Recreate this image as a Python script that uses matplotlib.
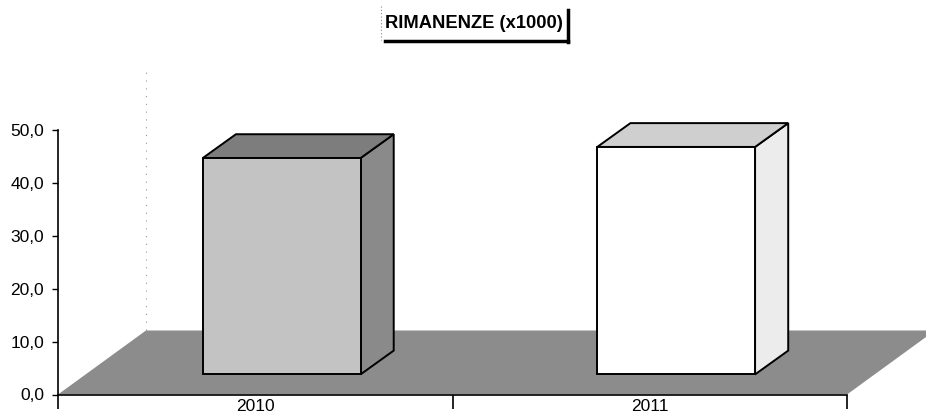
import matplotlib
matplotlib.use("Agg")
import matplotlib.pyplot as plt
import numpy as np
from matplotlib.patches import Polygon
from matplotlib.lines import Line2D
from matplotlib.ticker import FuncFormatter

plt.rcParams['font.family'] = ['Liberation Sans', 'DejaVu Sans']

# ---- data ----
categories = ["2010", "2011"]
values = [44.7, 46.8]          # top of the front face, read on the value axis
title = "RIMANENZE (x1000)"
yticks = [0, 10, 20, 30, 40, 50]

# ---- styling / geometry ----
front_colors = ["#c3c3c3", "#ffffff"]
side_colors = ["#8a8a8a", "#ececec"]
top_colors = ["#7d7d7d", "#cfcfcf"]
floor_color = "#8c8c8c"
base = 3.8          # bar base level (3-D inset)
bar_width = 0.40
bar_shift = 0.067
depth_x = 0.084     # 3-D depth offset, x
depth_y = 4.5       # 3-D depth offset, y
floor_dx = 0.223
floor_dy = 12.1

W, H = 926, 416
fig = plt.figure(figsize=(W / 100, H / 100), dpi=100)
ax = fig.add_axes([58 / W, 21.5 / H, 1 - 58 / W, 1 - 21.5 / H])
ax.set_xlim(0, (W - 58) / 394.5)
ax.set_ylim(0, 394.5 / 5.29)

n = len(categories)

# floor
floor = Polygon([(0, 0), (n, 0), (n + floor_dx, floor_dy), (floor_dx, floor_dy)],
                closed=True, facecolor=floor_color, edgecolor="none", zorder=1)
ax.add_patch(floor)
# faint back-wall edge
ax.plot([floor_dx, floor_dx], [floor_dy, 50 + floor_dy], linestyle=(0, (1, 6)),
        color="#9a9a9a", lw=0.8, zorder=0.5)

centers = np.arange(n) + 0.5 + bar_shift
for i, (c, v) in enumerate(zip(centers, values)):
    x0, x1 = c - bar_width / 2, c + bar_width / 2
    ax.bar(c, v - base, bottom=base, width=bar_width, color=front_colors[i],
           edgecolor="black", linewidth=1.4, zorder=3)
    side = Polygon([(x1, base), (x1 + depth_x, base + depth_y),
                    (x1 + depth_x, v + depth_y), (x1, v)],
                   closed=True, facecolor=side_colors[i], edgecolor="black",
                   linewidth=1.4, zorder=2.5)
    top = Polygon([(x0, v), (x1, v), (x1 + depth_x, v + depth_y),
                   (x0 + depth_x, v + depth_y)],
                  closed=True, facecolor=top_colors[i], edgecolor="black",
                  linewidth=1.4, zorder=2.5)
    ax.add_patch(side)
    ax.add_patch(top)

# axes styling
for s in ["top", "right"]:
    ax.spines[s].set_visible(False)
ax.spines["left"].set_bounds(0, 50)
ax.spines["bottom"].set_bounds(0, n)
ax.spines["left"].set_linewidth(1.2)
ax.spines["bottom"].set_linewidth(1.2)
ax.spines["left"].set_zorder(5)
ax.spines["bottom"].set_zorder(5)

ax.set_yticks(yticks)
ax.yaxis.set_major_formatter(FuncFormatter(lambda v, p: f"{v:.1f}".replace(".", ",")))
ax.tick_params(axis="y", direction="out", length=4, width=1, pad=6, labelsize=12.5)

ax.set_xticks(np.arange(n + 1))
ax.set_xticklabels([])
ax.set_xticks(np.arange(n) + 0.5, minor=True)
ax.set_xticklabels(categories, minor=True)
ax.tick_params(axis="x", which="major", direction="out", length=10, width=1.2)
ax.tick_params(axis="x", which="minor", length=0, pad=3, labelsize=12.5)

# title with shadowed frame
fig.text(474 / W, 1 - 24 / H, title, ha="center", va="center",
         fontsize=13.2, fontweight="bold")
fig.add_artist(Line2D([385 / W, 568 / W], [1 - 40.5 / H, 1 - 40.5 / H],
                      transform=fig.transFigure, color="black", lw=2.5))
fig.add_artist(Line2D([568 / W, 568 / W], [1 - 10 / H, 1 - 41.5 / H],
                      transform=fig.transFigure, color="black", lw=2.5))
fig.add_artist(Line2D([381 / W, 381 / W], [1 - 6 / H, 1 - 40 / H],
                      transform=fig.transFigure, color="#888888", lw=0.8,
                      linestyle=(0, (1, 2))))

fig.savefig("out.png", dpi=100)
